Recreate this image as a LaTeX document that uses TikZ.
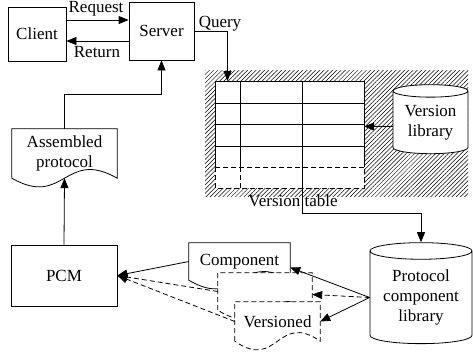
\documentclass[tikz,border=0pt]{standalone}
\usepackage{fontspec}
\setmainfont{Liberation Serif}
\usetikzlibrary{arrows.meta,shapes.geometric,patterns.meta,backgrounds,calc}

\tikzset{
  every node/.style={font=\fontsize{17}{20}\selectfont},
  box/.style={draw, line width=0.8pt, inner sep=0pt},
  docbox/.style={inner sep=0pt, align=center},
  db/.style={cylinder, shape border rotate=90, draw, fill=white, line width=0.8pt, align=center, inner sep=0pt},
  arr/.style={-{Triangle[length=10pt,width=8pt]}, line width=0.8pt},
  dsh/.style={dash pattern=on 5pt off 3pt},
}

% document symbol: box with a wavy lower edge
\newcommand{\docoutline}[2][]{%
  \draw[line width=0.8pt, fill=white, #1] (#2.south west) -- (#2.north west) -- (#2.north east) -- (#2.south east)
    .. controls ($(#2.south)+(0pt,30pt)$) and ($(#2.south)+(0pt,-30pt)$) .. (#2.south west) -- cycle;}

\begin{document}
\begin{tikzpicture}[x=1pt, y=-1pt]
  \useasboundingbox (0,0) rectangle (473,356);

  % client / server
  \node[box, minimum width=58pt, minimum height=54pt] (client) at (37,34) {Client};
  \node[box, minimum width=65pt, minimum height=58pt] (server) at (161.5,31) {Server};
  \draw[arr] ([yshift=14pt]client.east) -- ([yshift=14pt]client.east -| server.west);
  \draw[arr] ([yshift=-10pt]server.west) -- ([yshift=-10pt]server.west -| client.east);
  \node (req) at (96,9) {Request};
  \node (ret) at (97,52) {Return};

  % version table
  \node[fill=white, minimum width=149pt, minimum height=107pt, inner sep=0pt] (vtab) at (289.5,134.5) {};
  \draw[line width=0.8pt] (215,167) |- (364,81) -- (364,167);
  \foreach \y in {103,124,146}
    \draw[line width=0.8pt] (215,\y) -- (364,\y);
  \foreach \x in {240,302} {
    \draw[line width=0.8pt] (\x,81) -- (\x,167);
    \draw[line width=0.8pt, dsh] (\x,167) -- (\x,188);
  }
  \draw[line width=0.8pt, dsh] (215,167) -- (364,167);
  \draw[line width=0.8pt, dsh] (215,167) |- (364,188) -- (364,167);
  \coordinate (qin) at (227.5,81);
  \coordinate (tout) at (302,167);
  \node (vtlab) at (293,201) {Version table};

  \draw[arr] (server.east) -| (qin);
  \node (qlab) at (220,24) {Query};

  \node[db, minimum width=75pt, minimum height=69pt, aspect=0.24] (vlib) at (430.5,122.5) {Version\\library};
  \draw[arr] ([yshift=-4pt]vlib.west) -- ([yshift=-4pt]vlib.west -| vtab.east);

  % assembly side
  \node[docbox, minimum width=105pt, minimum height=49pt] (asm) at (64.5,153.5) {Assembled\\protocol};
  \node[box, minimum width=106pt, minimum height=61pt] (pcm) at (64,275.5) {PCM};
  \draw[arr] (pcm.north) -- (asm.south);
  \draw[arr] (asm.north) -- ++(0,-34) -| (server.south);

  % components
  \node[docbox, minimum width=101pt, minimum height=37pt] (comp) at (239.5,261.5) {Component};
  \node[docbox, minimum width=94pt, minimum height=37pt] (vcomp) at (265,291.5) {};
  \node[docbox, minimum width=85pt, minimum height=39pt] (verd) at (277.5,321.5) {Versioned};

  \node[db, minimum width=102pt, minimum height=101pt, aspect=0.22] (pcl) at (421,297.5) {Protocol\\component\\library};
  \draw[arr] (tout) -- ++(0,46) -| (pcl.north);

  \draw[arr] (comp.west) -- (pcm.east);
  \draw[arr, dsh] (vcomp.west) -- (pcm.east);
  \draw[arr, dsh] (verd.west) -- (pcm.east);
  \draw[arr] (pcl.west) -- ([yshift=-6pt]comp.east);
  \draw[arr, dsh] (pcl.west) -- ([yshift=-3pt]vcomp.east);
  \draw[arr] (pcl.west) -- (verd.east);

  \begin{scope}[on background layer]
    \fill[pattern={Lines[angle=45, distance=3pt, line width=0.5pt]}] (205,70) rectangle (468,196);
    \docoutline{asm}
    \docoutline{comp}
    \docoutline[dsh]{vcomp}
    \docoutline[dsh]{verd}
  \end{scope}
\end{tikzpicture}
\end{document}
